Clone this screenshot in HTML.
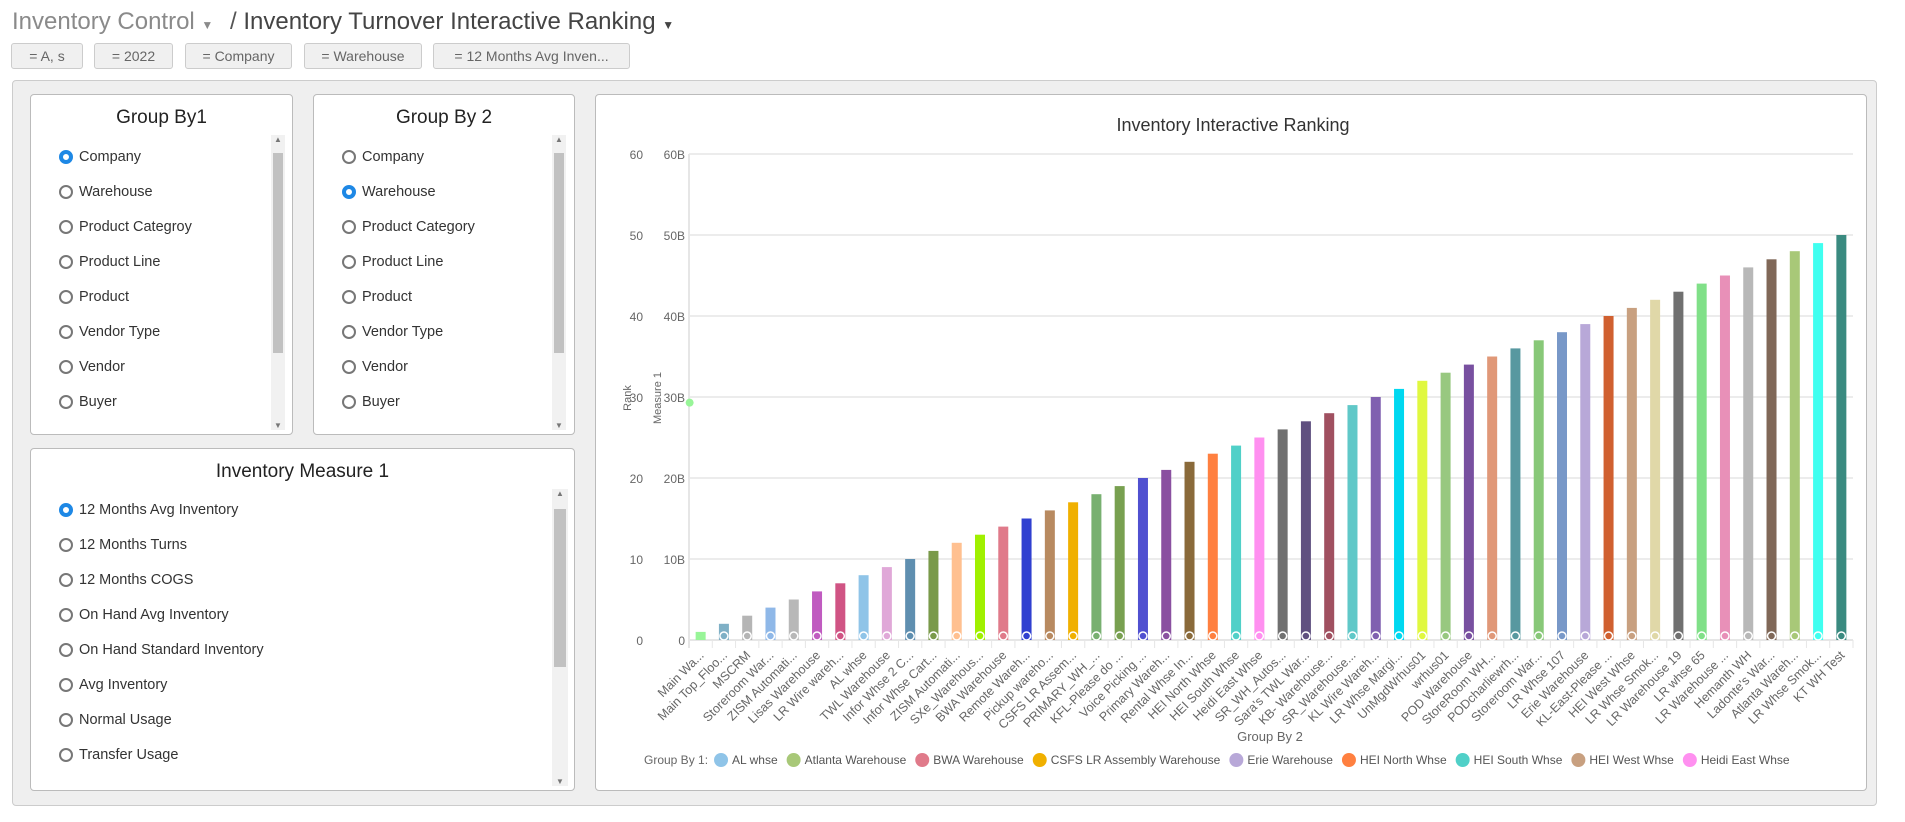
<!DOCTYPE html>
<html><head><meta charset="utf-8">
<style>
*{box-sizing:border-box}
body{margin:0;width:1905px;height:822px;background:#fff;font-family:"Liberation Sans",sans-serif;position:relative;overflow:hidden;color:#333}
.abs{position:absolute}
.btn{position:absolute;top:43px;height:26px;border:1px solid #ccc;border-radius:3px;background:#f0f0f0;color:#666;font-size:14px;line-height:24px;text-align:center}
.box{position:absolute;background:#fff;border:1px solid #bbb;border-radius:4px}
.bt{position:absolute;left:0;right:0;text-align:center;font-size:19px;color:#222}
.item{position:absolute;left:48px;font-size:14.5px;color:#333;height:20px;line-height:20px}
.rad{position:absolute;left:-20px;top:3px;width:14px;height:14px;border:2px solid #777;border-radius:50%;background:#fff}
.rad.on{border:4px solid #1e88e5}
.sb{position:absolute;background:#f1f1f1}
.th{position:absolute;left:2px;right:2px;background:#c1c1c1}
.ar{position:absolute;left:0;right:0;text-align:center;font-size:8px;color:#777}
</style></head><body>
<div class="abs" style="left:12px;top:8px;font-size:24px;white-space:nowrap">
<span style="color:#8a8a8a">Inventory Control <span style="font-size:12px">▼</span></span>
<span style="color:#555;margin-left:10px">/ </span><span style="color:#444">Inventory Turnover Interactive Ranking <span style="font-size:12px">▼</span></span></div>
<div class="btn" style="left:11px;width:72px">= A, s</div>
<div class="btn" style="left:94px;width:79px">= 2022</div>
<div class="btn" style="left:185px;width:107px">= Company</div>
<div class="btn" style="left:304px;width:118px">= Warehouse</div>
<div class="btn" style="left:433px;width:197px">= 12 Months Avg Inven...</div>
<div class="abs" style="left:12px;top:80px;width:1865px;height:726px;background:#efefef;border:1px solid #ccc;border-radius:4px"></div>

<div class="box" style="left:30px;top:94px;width:263px;height:341px">
<div class="bt" style="top:12px">Group By1</div>
<div class="sb" style="left:240px;top:40px;width:14px;height:295px"><div class="ar">▲</div><div class="th" style="top:18px;height:200px"></div><div class="ar" style="bottom:0">▼</div></div>
<div class="item" style="top:52px"><span class="rad on"></span>Company</div>
<div class="item" style="top:87px"><span class="rad"></span>Warehouse</div>
<div class="item" style="top:122px"><span class="rad"></span>Product Categroy</div>
<div class="item" style="top:157px"><span class="rad"></span>Product Line</div>
<div class="item" style="top:192px"><span class="rad"></span>Product</div>
<div class="item" style="top:227px"><span class="rad"></span>Vendor Type</div>
<div class="item" style="top:262px"><span class="rad"></span>Vendor</div>
<div class="item" style="top:297px"><span class="rad"></span>Buyer</div>
</div>

<div class="box" style="left:313px;top:94px;width:262px;height:341px">
<div class="bt" style="top:12px">Group By 2</div>
<div class="sb" style="left:238px;top:40px;width:14px;height:295px"><div class="ar">▲</div><div class="th" style="top:18px;height:200px"></div><div class="ar" style="bottom:0">▼</div></div>
<div class="item" style="top:52px"><span class="rad"></span>Company</div>
<div class="item" style="top:87px"><span class="rad on"></span>Warehouse</div>
<div class="item" style="top:122px"><span class="rad"></span>Product Category</div>
<div class="item" style="top:157px"><span class="rad"></span>Product Line</div>
<div class="item" style="top:192px"><span class="rad"></span>Product</div>
<div class="item" style="top:227px"><span class="rad"></span>Vendor Type</div>
<div class="item" style="top:262px"><span class="rad"></span>Vendor</div>
<div class="item" style="top:297px"><span class="rad"></span>Buyer</div>
</div>

<div class="box" style="left:30px;top:448px;width:545px;height:343px">
<div class="bt" style="top:12px">Inventory Measure 1</div>
<div class="sb" style="left:521px;top:40px;width:16px;height:297px"><div class="ar">▲</div><div class="th" style="top:20px;height:158px"></div><div class="ar" style="bottom:0">▼</div></div>
<div class="item" style="top:51px"><span class="rad on"></span>12 Months Avg Inventory</div>
<div class="item" style="top:86px"><span class="rad"></span>12 Months Turns</div>
<div class="item" style="top:121px"><span class="rad"></span>12 Months COGS</div>
<div class="item" style="top:156px"><span class="rad"></span>On Hand Avg Inventory</div>
<div class="item" style="top:191px"><span class="rad"></span>On Hand Standard Inventory</div>
<div class="item" style="top:226px"><span class="rad"></span>Avg Inventory</div>
<div class="item" style="top:261px"><span class="rad"></span>Normal Usage</div>
<div class="item" style="top:296px"><span class="rad"></span>Transfer Usage</div>
</div>

<div class="box" style="left:595px;top:94px;width:1272px;height:697px"></div>
<svg id="chart" class="abs" style="left:0;top:0" width="1905" height="822"></svg>

<script>
const categories=["Main Wa...","Main Top_Floo...","MSCRM","Storeroom War...","ZISM Automati...","Lisas Warehouse","LR Wire wareh...","AL whse","TWL Warehouse","Infor Whse 2 C...","Infor Whse Cart...","ZISM Automati...","SXe_Warehous...","BWA Warehouse","Remote Wareh...","Pickup wareho...","CSFS LR Assem...","PRIMARY_WH_...","KFL-Please do ...","Voice Picking ...","Primary Wareh...","Rental Whse In...","HEI North Whse","HEI South Whse","Heidi East Whse","SR_WH_Autos...","Sara's TWL War...","KB- Warehouse...","SR_Warehouse...","KL Wire Wareh...","LR Whse Margi...","UnMgdWrhus01","wrhus01","POD Warehouse","StoreRoom WH...","PODcharliewrh...","Storeroom War...","LR Whse 107","Erie Warehouse","KL-East-Please ...","HEI West Whse","LR Whse Smok...","LR Warehouse 19","LR whse 65","LR Warehouse ...","Hemanth WH","Ladonte's War...","Atlanta Wareh...","LR Whse Smok...","KT WH Test"];
const rankValues=[1,2,3,4,5,6,7,8,9,10,11,12,13,14,15,16,17,18,19,20,21,22,23,24,25,26,27,28,29,30,31,32,33,34,35,36,37,38,39,40,41,42,43,44,45,46,47,48,49,50];
const measureValues=[29.3,0,0,0,0,0,0,0,0,0,0,0,0,0,0,0,0,0,0,0,0,0,0,0,0,0,0,0,0,0,0,0,0,0,0,0,0,0,0,0,0,0,0,0,0,0,0,0,0,0];
const barColors=["#98f598","#7fb0c6","#b5b5b5","#8fb8e8","#b8b8b8","#c05bc0","#d05484","#8fc4e8","#e0a8d8","#5f8fb0","#7a9a4a","#ffc090","#a0f000","#e07a8a","#3040d0","#b88a60","#f0b000","#78b070","#78a050","#5050d0","#8a50a0","#8a6a3a","#ff8040","#50d0c8","#ff90f0","#707070","#605080","#a05060","#60c8c8","#8060b0","#00d8f0","#e0f840","#98c880","#7850a0","#e09878","#5898a0","#88c878","#7898c8","#b8a8d8","#d06030","#c8a080","#e0d8a8","#707070","#80e088","#e890b8","#b8b8b8","#806858","#a8c878","#40fff0","#3a8a80"];
const rankTicks=[0,10,20,30,40,50,60];
const measureTickLabels=["0","10B","20B","30B","40B","50B","60B"];
const legendNames=["AL whse","Atlanta Warehouse","BWA Warehouse","CSFS LR Assembly Warehouse","Erie Warehouse","HEI North Whse","HEI South Whse","HEI West Whse","Heidi East Whse"];
const legendColors=["#8fc4e8","#a8c878","#e07a8a","#f0b000","#b8a8d8","#ff8040","#50d0c8","#c8a080","#ff90f0"];

const svg=document.getElementById('chart');const NS="http://www.w3.org/2000/svg";
const X0=689,X1=1853,Y0=640,Y1=154,YMAX=60;
const band=(X1-X0)/categories.length;
const xc=i=>X0+band*(i+0.5);
const y=v=>Y0-(v/YMAX)*(Y0-Y1);
function mk(t,a,txt){const e=document.createElementNS(NS,t);for(const k in a)e.setAttribute(k,a[k]);if(txt!=null)e.textContent=txt;svg.appendChild(e);return e;}
let e;
e=mk('text',{x:1233,y:131,'text-anchor':'middle','font-size':18,fill:'#333','font-family':'Liberation Sans, sans-serif'},'Inventory Interactive Ranking');


rankTicks.forEach((t,i)=>{
 e=mk('line',{x1:X0,x2:X1,y1:y(t),y2:y(t),stroke:'#e6e6e6','stroke-width':t===0?2:1.5});
 
 
 e=mk('text',{x:643,y:y(t)+5,'text-anchor':'end','font-size':12,fill:'#666'},String(t));
 
 
 e=mk('text',{x:685,y:y(t)+5,'text-anchor':'end','font-size':12,fill:'#666'},measureTickLabels[i]);
 
 
});
e=mk('line',{x1:X0,x2:X0,y1:Y1,y2:Y0+8,stroke:'#e6e6e6','stroke-width':2});


e=mk('text',{x:0,y:0,transform:'translate(631,398) rotate(-90)','text-anchor':'middle','font-size':11,fill:'#666'},'Rank');


e=mk('text',{x:0,y:0,transform:'translate(661,398) rotate(-90)','text-anchor':'middle','font-size':11,fill:'#666'},'Measure 1');


categories.forEach((c,i)=>{
 const cx=xc(i);
 e=mk('line',{x1:X0+band*(i+1),x2:X0+band*(i+1),y1:Y0,y2:Y0+8,stroke:'#e6e6e6','stroke-width':1});
 
 
 e=mk('rect',{x:cx-5,y:y(rankValues[i]),width:10,height:Y0-y(rankValues[i]),fill:barColors[i]});
 
 
 if(measureValues[i]===0){
  e=mk('circle',{cx:cx,cy:Y0-4,r:4,fill:barColors[i],stroke:'#fff','stroke-width':1.5});
  
  
 }
 e=mk('text',{x:0,y:0,transform:`translate(${cx+4},${Y0+16}) rotate(-45)`,'text-anchor':'end','font-size':12.5,fill:'#666'},c);
 
 
});
measureValues.forEach((v,i)=>{if(v>0){
 e=mk('circle',{cx:xc(i)-11,cy:y(v),r:4,fill:barColors[i]});
 
 
}});
e=mk('text',{x:1270,y:741,'text-anchor':'middle','font-size':13,fill:'#666'},'Group By 2');


let lx=644;
e=mk('text',{x:lx,y:764,'font-size':12,fill:'#666'},'Group By 1:');


lx+=e.getComputedTextLength()+6;
legendNames.forEach((n,i)=>{
 e=mk('circle',{cx:lx+7,cy:760,r:7,fill:legendColors[i]});
 
 
 e=mk('text',{x:lx+18,y:764,'font-size':12,fill:'#555'},n);
 
 
 lx+=18+e.getComputedTextLength()+9;
});
</script>
</body></html>
